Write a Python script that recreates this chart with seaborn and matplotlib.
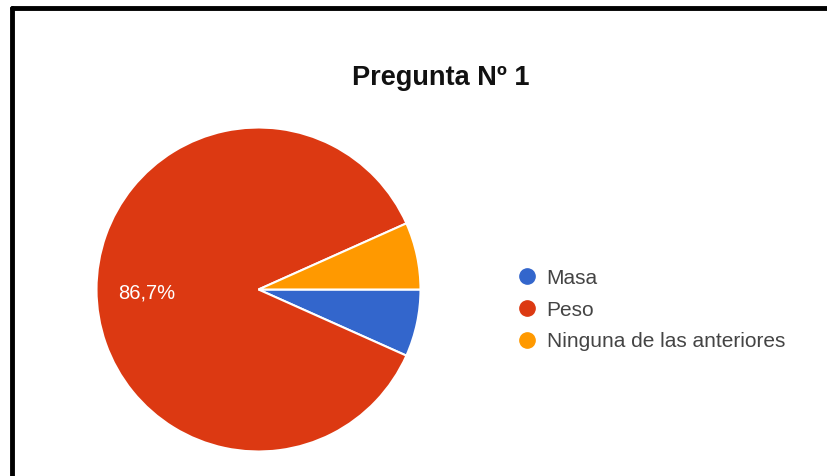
import matplotlib
matplotlib.use("Agg")
import matplotlib.pyplot as plt
from matplotlib.lines import Line2D
import seaborn as sns

sns.set_theme(style="white")
plt.rcParams["font.family"] = ["Liberation Sans", "DejaVu Sans"]

# Survey answers for question 1 (percent of respondents)
categories = ["Masa", "Peso", "Ninguna de las anteriores"]
percentages = [6.7, 86.7, 6.7]
colors = ["#3366CC", "#DC3912", "#FF9900"]
title = "Pregunta Nº 1"

W, H = 828, 476
fig = plt.figure(figsize=(W / 100, H / 100), dpi=100)
fig.patch.set_facecolor("white")

# Pie axes placed by pixel geometry
cx, cy, r = 258.5, 289.5, 162
ax = fig.add_axes([(cx - r) / W, 1 - (cy + r) / H, 2 * r / W, 2 * r / H])

wedges, _ = ax.pie(
    percentages,
    colors=colors,
    startangle=0,
    counterclock=False,
    radius=1.0,
    wedgeprops=dict(edgecolor="white", linewidth=1.5),
)
ax.set_xlim(-1, 1)
ax.set_ylim(-1, 1)
ax.set_aspect("equal")
ax.axis("off")

# Only the dominant slice carries its percentage label
big = percentages.index(max(percentages))
label = f"{percentages[big]:.1f}%".replace(".", ",")
ax.text(-0.688, -0.02, label, color="white", fontsize=14.5, ha="center", va="center")

# Title
fig.text(441 / W, 1 - 78 / H, title, fontsize=19.5, fontweight="bold",
         ha="center", va="center", color="#111111")

# Legend with round markers
fs = 15
handles = [Line2D([0], [0], marker="o", linestyle="none", markersize=11,
                  markerfacecolor=c, markeredgecolor=c) for c in colors]
leg = fig.legend(handles, categories, loc="center left",
                 bbox_to_anchor=(517 / W, 1 - 310 / H), frameon=False,
                 fontsize=fs, handletextpad=0.42, labelspacing=0.62,
                 handlelength=1.0, borderaxespad=0, borderpad=0)
for t in leg.get_texts():
    t.set_color("#444444")

# Frame around the chart (left and top edges)
fig.add_artist(Line2D([12 / W, 12 / W], [0, 1 - 8 / H], color="black",
                      linewidth=3.5, transform=fig.transFigure))
fig.add_artist(Line2D([12 / W, 1], [1 - 8 / H, 1 - 8 / H], color="black",
                      linewidth=3.5, transform=fig.transFigure))

fig.savefig("out.png", dpi=100, facecolor="white")
